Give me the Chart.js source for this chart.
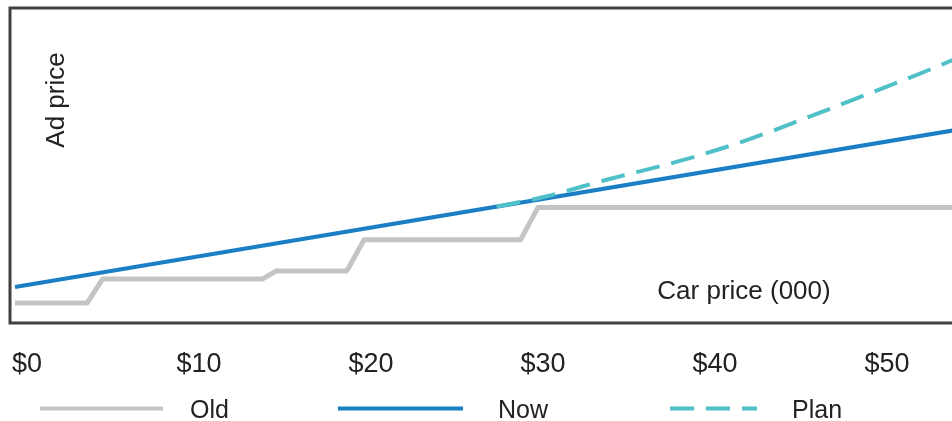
<!DOCTYPE html>
<html>
<head>
<meta charset="utf-8">
<script src="https://cdn.jsdelivr.net/npm/chart.js@4.4.1/dist/chart.umd.min.js"></script>
<style>
  html, body { margin: 0; padding: 0; background: #fff; overflow: hidden; }
  #wrap { position: relative; width: 1000px; height: 421px; }
</style>
</head>
<body>
<div id="wrap"><canvas id="ad-chart"></canvas></div>
<script>
// Car price in $000 along x, ad price (arbitrary units) along y
const xTicks = [0, 10, 20, 30, 40, 50]

const oldX = [-0.7, 3.5, 4.4, 13.7, 14.5, 18.6, 19.6, 28.7, 29.7, 57]
const oldY = [5, 5, 11, 11, 13, 13, 20.8, 20.8, 28.8, 28.8]

const nowX = [-0.7, 57]
const nowY = [9.0, 50.3]

const planX = [27.3, 30.1, 33.7, 37.8, 41.6, 45.35, 48.8, 52.5, 57]
const planY = [29.0, 31.5, 35.75, 40.25, 45.25, 51.25, 57, 63.25, 71.5]

const toPoints = (xs, ys) => xs.map((x, i) => ({ x, y: ys[i] }))

const FONT = "'Liberation Sans', Arial, sans-serif"
const TEXT = '#222'

// frame around the plot area (right side runs off the page)
const frame = {
  id: 'frame',
  afterDatasetsDraw(chart) {
    const { ctx, chartArea: a } = chart
    ctx.save()
    ctx.strokeStyle = '#404040'
    ctx.lineWidth = 3
    ctx.strokeRect(a.left, a.top, a.right - a.left, a.bottom - a.top)
    ctx.restore()
  },
}

// axis captions sitting inside the frame
const captions = {
  id: 'captions',
  afterDraw(chart) {
    const { ctx } = chart
    ctx.save()
    ctx.fillStyle = TEXT
    ctx.font = `26px ${FONT}`
    ctx.textAlign = 'center'
    ctx.textBaseline = 'middle'
    ctx.fillText('Car price (000)', 744, 292)
    ctx.translate(57, 100)
    ctx.rotate(-Math.PI / 2)
    ctx.fillText('Ad price', 0, 0)
    ctx.restore()
  },
}

// legend row under the tick labels
const legendSlots = [
  { x: 40, len: 123, textX: 190 },
  { x: 338, len: 125, textX: 498 },
  { x: 670, len: 87, textX: 792 },
]
const lineLegend = {
  id: 'lineLegend',
  afterDraw(chart) {
    const { ctx } = chart
    const y = 408.5
    ctx.save()
    chart.data.datasets.forEach((ds, i) => {
      const s = legendSlots[i]
      ctx.beginPath()
      ctx.strokeStyle = ds.borderColor
      ctx.lineWidth = 4
      ctx.setLineDash(ds.borderDash || [])
      ctx.moveTo(s.x, y)
      ctx.lineTo(s.x + s.len, y)
      ctx.stroke()
      ctx.setLineDash([])
      ctx.fillStyle = TEXT
      ctx.font = `25px ${FONT}`
      ctx.textAlign = 'left'
      ctx.textBaseline = 'middle'
      ctx.fillText(ds.label, s.textX, y + 2.5)
    })
    ctx.restore()
  },
}

new Chart(document.getElementById('ad-chart'), {
  type: 'line',
  data: {
    datasets: [
      {
        label: 'Old',
        data: toPoints(oldX, oldY),
        borderColor: '#c4c4c4',
        borderWidth: 5,
        borderJoinStyle: 'round',
        order: 3,
      },
      {
        label: 'Now',
        data: toPoints(nowX, nowY),
        borderColor: '#1b7fc6',
        borderWidth: 4,
        order: 2,
      },
      {
        label: 'Plan',
        data: toPoints(planX, planY),
        borderColor: '#4fc0c7',
        borderWidth: 4,
        borderDash: [24, 12],
        cubicInterpolationMode: 'monotone',
        order: 1,
      },
    ],
  },
  options: {
    responsive: true,
    maintainAspectRatio: false,
    animation: false,
    events: [],
    layout: { padding: { top: 8, left: 10, right: 0, bottom: 0 } },
    elements: { point: { radius: 0 }, line: { tension: 0 } },
    plugins: {
      legend: { display: false },
      tooltip: { enabled: false },
    },
    scales: {
      x: {
        type: 'linear',
        min: -0.99,
        max: 56.57,
        grid: { display: false, drawTicks: false },
        border: { display: false },
        afterBuildTicks: (scale) => { scale.ticks = xTicks.map(v => ({ value: v })) },
        afterFit: (scale) => {
          scale.height = 98
          scale.paddingLeft = 0
          scale.paddingRight = 0
        },
        ticks: {
          color: TEXT,
          padding: 25,
          maxRotation: 0,
          font: { family: FONT, size: 27 },
          callback: (v) => '$' + v,
        },
      },
      y: {
        display: false,
        min: 0,
        max: 78.6,
      },
    },
  },
  plugins: [frame, captions, lineLegend],
})
</script>
</body>
</html>
